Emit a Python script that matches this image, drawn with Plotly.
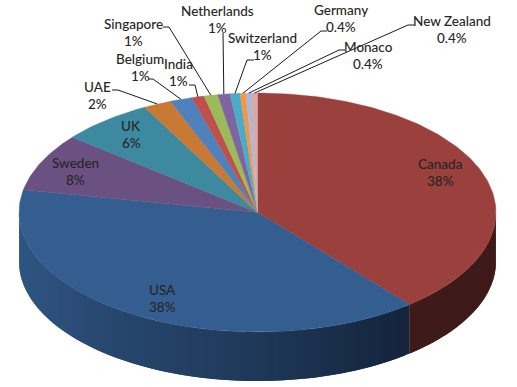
import math
import plotly.graph_objects as go

# ---- data ----
countries = ["Canada", "USA", "Sweden", "UK", "UAE", "Belgium", "India", "Singapore",
             "Netherlands", "Switzerland", "Germany", "Monaco", "New Zealand"]
shares = [39.0, 39.1, 7.8, 6.3, 1.9, 1.5, 0.85, 0.93, 0.83, 0.67, 0.4, 0.38, 0.39]
share_labels = ["38%", "38%", "8%", "6%", "2%", "1%", "1%", "1%", "1%", "1%", "0.4%", "0.4%", "0.4%"]

# ---- styles ----
top_colors = ["#9A403D", "#355E90", "#6B5181", "#3C89A0", "#C87A35", "#4F81BD", "#C0504D",
              "#9BBB59", "#8064A2", "#4BACC6", "#F79646", "#A9BAD9", "#D9A9A7"]
usa_side_stops = [(19, (47, 85, 130)), (100, (40, 72, 112)), (257, (30, 56, 88)), (408, (20, 36, 60))]
canada_side_color = "#3E1B18"
text_color = "#262626"

# ---- layout of the drawing (pixel-like axis units) ----
W, H = 517, 387
CX, CY, A, B, DEPTH = 257.5, 212.5, 238.5, 119.5, 49
LINE_GAP = 17.3
label_pos = [(440, 164), (162, 290), (75, 163), (131, 126), (97, 87), (140, 59), (178, 64),
             (133, 24), (217, 11), (262, 38), (341, 10), (368, 47), (452, 21)]
leader_elbows = [None, None, None, None,
                 [(112, 90), (118, 90)], [(148, 79), (153, 79)], [(189, 85), (195, 85)],
                 [(163, 27), (169, 27)], [(223, 33)], [(254, 60), (247, 60)],
                 [(327, 31), (321, 31)], [(345, 50), (339, 50)], [(415, 25), (408, 25)]]


def rim(deg, drop=0.0):
    t = math.radians(deg)
    return CX + A * math.sin(t), CY - B * math.cos(t) + drop


def usa_color(x):
    for (x0, c0), (x1, c1) in zip(usa_side_stops, usa_side_stops[1:]):
        if x <= x1:
            f = max(0.0, (x - x0) / (x1 - x0))
            return "rgb(%d,%d,%d)" % tuple(round(a + (b - a) * f) for a, b in zip(c0, c1))
    return "rgb(%d,%d,%d)" % usa_side_stops[-1][1]


total = sum(shares)
edges = [0.0]
for v in shares:
    edges.append(edges[-1] + v / total * 360)

fig = go.Figure()


def poly(xs, ys, color, lw=0.6):
    fig.add_trace(go.Scatter(x=xs, y=ys, mode="lines", fill="toself", fillcolor=color,
                             line=dict(color=color, width=lw), hoverinfo="skip", showlegend=False))


# side wall of the two slices that face the viewer
STEP = 1.5
walls = [(edges[1], 270.0, False), (90.0, edges[1], True)]
for start, end, is_canada in walls:
    n = max(1, round((end - start) / STEP))
    for k in range(n):
        a0 = start + (end - start) * k / n
        a1 = start + (end - start) * (k + 1) / n
        a_over = min(end, a1 + STEP)  # each strip overlaps the next one so no seam shows
        p = [rim(a0), rim(a_over), rim(a_over, DEPTH), rim(a0, DEPTH), rim(a0)]
        mid = rim((a0 + a1) / 2)[0]
        color = canada_side_color if is_canada else usa_color(mid)
        poly([q[0] for q in p], [q[1] for q in p], color, lw=0)

# top face
for i in range(len(shares)):
    n = max(2, int((edges[i + 1] - edges[i]) / 1.0))
    pts = [(CX, CY)] + [rim(edges[i] + (edges[i + 1] - edges[i]) * k / n) for k in range(n + 1)] + [(CX, CY)]
    poly([q[0] for q in pts], [q[1] for q in pts], top_colors[i], lw=0.4)

# leader lines: from the label elbow to the rim at the slice's middle angle
for i, elbow in enumerate(leader_elbows):
    if elbow:
        end = rim((edges[i] + edges[i + 1]) / 2)
        fig.add_trace(go.Scatter(x=[q[0] for q in elbow] + [end[0]], y=[q[1] for q in elbow] + [end[1]],
                                 mode="lines", line=dict(color="#1A1A1A", width=1),
                                 hoverinfo="skip", showlegend=False))

annotations = []
for name, pct, (x, y) in zip(countries, share_labels, label_pos):
    for text, yy in ((name, y), (pct, y + LINE_GAP)):
        annotations.append(dict(x=x, y=yy, xref="x", yref="y", text=text, showarrow=False,
                                xanchor="center", yanchor="middle", align="center", borderpad=0,
                                font=dict(family="Lato, Carlito, sans-serif", size=13.5,
                                          color=text_color, weight=500)))

fig.update_layout(
    width=W, height=H, margin=dict(l=0, r=0, t=0, b=0),
    paper_bgcolor="white", plot_bgcolor="white", showlegend=False,
    xaxis=dict(range=[0, W], visible=False, fixedrange=True),
    yaxis=dict(range=[H, 0], visible=False, fixedrange=True),
    annotations=annotations,
)
fig.write_html("out.html", config={"displayModeBar": False},
               post_script="document.body.style.margin='0';document.documentElement.style.overflow='hidden';")
